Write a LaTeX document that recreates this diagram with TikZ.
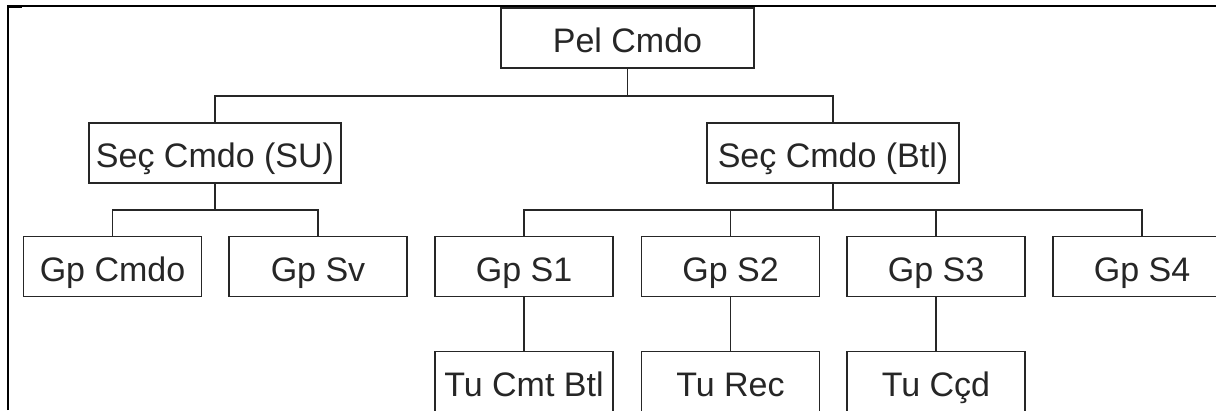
\documentclass[tikz,border=0pt]{standalone}
\usepackage{fontspec}
\setmainfont{Liberation Sans}
\definecolor{ink}{HTML}{262626}
\begin{document}
\begin{tikzpicture}[x=1pt,y=-1pt,
  unit/.style={draw=ink,line width=1.8pt,fill=white,text=ink,
    font=\fontsize{34}{40}\selectfont,inner sep=0pt,
    minimum height=60pt,text height=29.4pt,text depth=0pt},
  wide/.style={unit,minimum width=252pt},
  narrow/.style={unit,minimum width=178pt},
  link/.style={draw=ink,line width=1.5pt},
  frameline/.style={draw=black,line width=2.2pt}]
\useasboundingbox (0,0) rectangle (1216,410);
\clip (0,0) rectangle (1216,410);
\fill[white] (0,0) rectangle (1216,410);

% outer frame (top and left edges)
\draw[frameline] (8.3,410) -- (8.3,6.3) -- (1216,6.3);
\draw[black,line width=3pt] (7.3,6.5) -- (22,6.5);

% bus levels
\coordinate (busA) at (0,96);
\coordinate (busB) at (0,210);

% command level
\node[unit,minimum width=253pt] (pel) at (627.5,38) {Pel Cmdo};
\node[wide] (su)  at (215,153) {Seç Cmdo (SU)};
\node[wide] (btl) at (833,153) {Seç Cmdo (Btl)};

% groups
\node[narrow] (gcmdo) at (112.5,266.5) {Gp Cmdo};
\node[narrow] (gsv)   at (318,266.5)   {Gp Sv};
\node[narrow] (gs1)   at (524,266.5)   {Gp S1};
\node[narrow] (gs2)   at (730.5,266.5) {Gp S2};
\node[narrow] (gs3)   at (936,266.5)   {Gp S3};
\node[narrow] (gs4)   at (1142,266.5)  {Gp S4};

% teams
\node[narrow] (tu1) at (524,381.5)   {Tu Cmt Btl};
\node[narrow] (tu2) at (730.5,381.5) {Tu Rec};
\node[narrow] (tu3) at (936,381.5)   {Tu Cçd};

% connectors
\draw[link] (pel.south) -- (pel.south |- busA);
\draw[link] (su.north) -- (su.north |- busA) -| (btl.north);

\draw[link] (su.south) -- (su.south |- busB);
\draw[link] (gcmdo.north) -- (gcmdo.north |- busB) -| (gsv.north);

\draw[link] (btl.south) -- (btl.south |- busB);
\draw[link] (gs1.north) -- (gs1.north |- busB) -| (gs4.north);
\draw[link] (gs2.north) -- (gs2.north |- busB);
\draw[link] (gs3.north) -- (gs3.north |- busB);

\draw[link] (gs1.south) -- (tu1.north);
\draw[link] (gs2.south) -- (tu2.north);
\draw[link] (gs3.south) -- (tu3.north);
\end{tikzpicture}
\end{document}
